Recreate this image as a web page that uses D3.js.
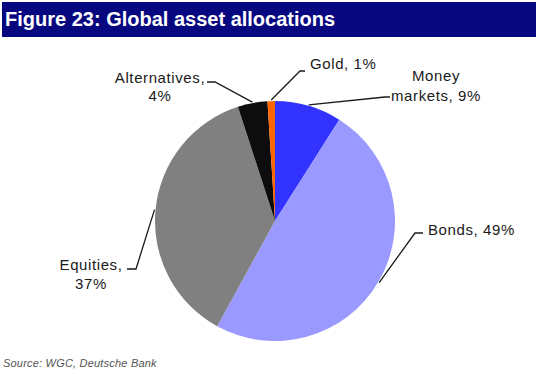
<!DOCTYPE html>
<html>
<head>
<meta charset="utf-8">
<script src="https://cdn.jsdelivr.net/npm/d3@7"></script>
<style>
  html, body { margin: 0; padding: 0; background: #fff; }
  svg { display: block; }
</style>
</head>
<body>
<svg id="chart" width="536" height="374"></svg>
<script>
const categories = ["Money markets", "Bonds", "Equities", "Alternatives", "Gold"];
const values = [9, 49, 37, 4, 1];
const colors = ["#3333ff", "#9999ff", "#808080", "#0d0d0d", "#ff6600"];
const titleText = "Figure 23: Global asset allocations";
const sourceText = "Source: WGC, Deutsche Bank";

// label layout: text lines, anchor, position, elbow, end of leader
const labelLayout = [
  { lines: ["Money", "markets, 9%"], anchor: "middle", x: 436, y: 81, dy: 20, elbow: [385, 97], end: [390, 97] },
  { lines: ["Bonds, 49%"], anchor: "start", x: 428, y: 235, dy: 0, elbow: [415, 233], end: [423, 233] },
  { lines: ["Equities,", "37%"], anchor: "middle", x: 91, y: 270, dy: 19, elbow: [136, 269], end: [127, 269] },
  { lines: ["Alternatives,", "4%"], anchor: "middle", x: 160, y: 83, dy: 18, elbow: [215, 82], end: [207, 82] },
  { lines: ["Gold, 1%"], anchor: "start", x: 310, y: 69, dy: 0, elbow: [300, 71], end: [305, 71] }
];

const svg = d3.select("#chart");
const W = 536, H = 374;

// title bar
svg.append("rect").attr("x", 2).attr("y", 2).attr("width", W - 2).attr("height", 35).attr("fill", "#07077f");
svg.append("text").attr("x", 5).attr("y", 26)
  .attr("font-family", "Liberation Sans, Arial, sans-serif")
  .attr("font-weight", "bold").attr("font-size", 20).attr("fill", "#fff")
  .text(titleText);

const cx = 275, cy = 221, r = 120;
const data = categories.map((c, i) => ({ cat: c, value: values[i], color: colors[i], layout: labelLayout[i] }));
const pie = d3.pie().sort(null).value(d => d.value).startAngle(0).endAngle(2 * Math.PI);
const arcs = pie(data);
const arc = d3.arc().innerRadius(0).outerRadius(r);
const g = svg.append("g").attr("transform", `translate(${cx},${cy})`);
g.selectAll("path").data(arcs).join("path")
  .attr("d", arc).attr("fill", d => d.data.color);

// leaders
const lineG = svg.append("g");
arcs.forEach(a => {
  const mid = (a.startAngle + a.endAngle) / 2;
  const p0 = [cx + (r + 1) * Math.sin(mid), cy - (r + 1) * Math.cos(mid)];
  const L = a.data.layout;
  lineG.append("path")
    .attr("d", d3.line()([p0, L.elbow, L.end]))
    .attr("fill", "none").attr("stroke", "#1a1a1a").attr("stroke-width", 1.3);
  const t = svg.append("text")
    .attr("font-family", "Liberation Sans, Arial, sans-serif")
    .attr("font-size", 15).attr("letter-spacing", 0.6).attr("fill", "#1a1a1a")
    .attr("text-anchor", L.anchor);
  L.lines.forEach((ln, i) => {
    t.append("tspan").attr("x", L.x).attr("y", L.y + i * L.dy).text(ln);
  });
});

svg.append("text").attr("x", 3).attr("y", 367)
  .attr("font-family", "Liberation Sans, Arial, sans-serif")
  .attr("font-style", "italic").attr("font-size", 11).attr("letter-spacing", 0.2)
  .attr("fill", "#555").text(sourceText);
</script>
</body>
</html>
